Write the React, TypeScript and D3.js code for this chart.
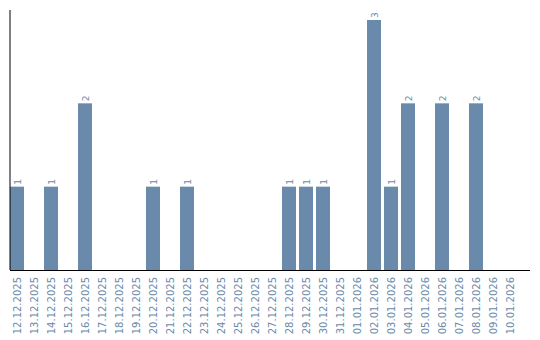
import React from "react";
import * as d3 from "d3";

const dates = [
  "12.12.2025", "13.12.2025", "14.12.2025", "15.12.2025", "16.12.2025",
  "17.12.2025", "18.12.2025", "19.12.2025", "20.12.2025", "21.12.2025",
  "22.12.2025", "23.12.2025", "24.12.2025", "25.12.2025", "26.12.2025",
  "27.12.2025", "28.12.2025", "29.12.2025", "30.12.2025", "31.12.2025",
  "01.01.2026", "02.01.2026", "03.01.2026", "04.01.2026", "05.01.2026",
  "06.01.2026", "07.01.2026", "08.01.2026", "09.01.2026", "10.01.2026",
];
const counts = [
  1, 0, 1, 0, 2, 0, 0, 0, 1, 0,
  1, 0, 0, 0, 0, 0, 1, 1, 1, 0,
  0, 3, 1, 2, 0, 2, 0, 2, 0, 0,
];

const W = 540;
const H = 340;
const left = 10;
const top = 10;
const baseY = 270;
const axisRight = 530;
const color = "#6a8aab";
const font = "'DejaVu Sans', Verdana, sans-serif";

export default function App() {
  const x = d3
    .scaleBand<string>()
    .domain(dates)
    .range([left, left + dates.length * 17])
    .paddingInner(3 / 17)
    .paddingOuter(3 / 34)
    .align(0);
  const y = d3.scaleLinear().domain([0, 3]).range([baseY, 20]);

  return (
    <svg
      width={W}
      height={H}
      style={{ position: "absolute", left: 0, top: 0, background: "#fff" }}
    >
      {dates.map((d, i) =>
        counts[i] > 0 ? (
          <g key={d}>
            <rect
              x={x(d)!}
              y={y(counts[i])}
              width={x.bandwidth()}
              height={baseY - y(counts[i])}
              fill={color}
            />
            <text
              transform={`translate(${x(d)! + x.bandwidth() / 2 + 3.5},${y(counts[i]) - 2}) rotate(-90)`}
              textAnchor="start"
              fontSize={9}
              fontFamily={font}
              fill={color}
            >
              {counts[i]}
            </text>
          </g>
        ) : null
      )}
      <line x1={left} x2={left} y1={top} y2={baseY} stroke="#000" strokeWidth={1} />
      <line x1={left} x2={axisRight} y1={baseY + 0.5} y2={baseY + 0.5} stroke="#000" strokeWidth={1} />
      {dates.map((d) => (
        <text
          key={"l" + d}
          transform={`translate(${x(d)! + x.bandwidth() / 2 + 3.5},${277}) rotate(-90)`}
          textAnchor="end"
          fontSize={10}
          fontFamily={font}
          fill={color}
        >
          {d}
        </text>
      ))}
    </svg>
  );
}
